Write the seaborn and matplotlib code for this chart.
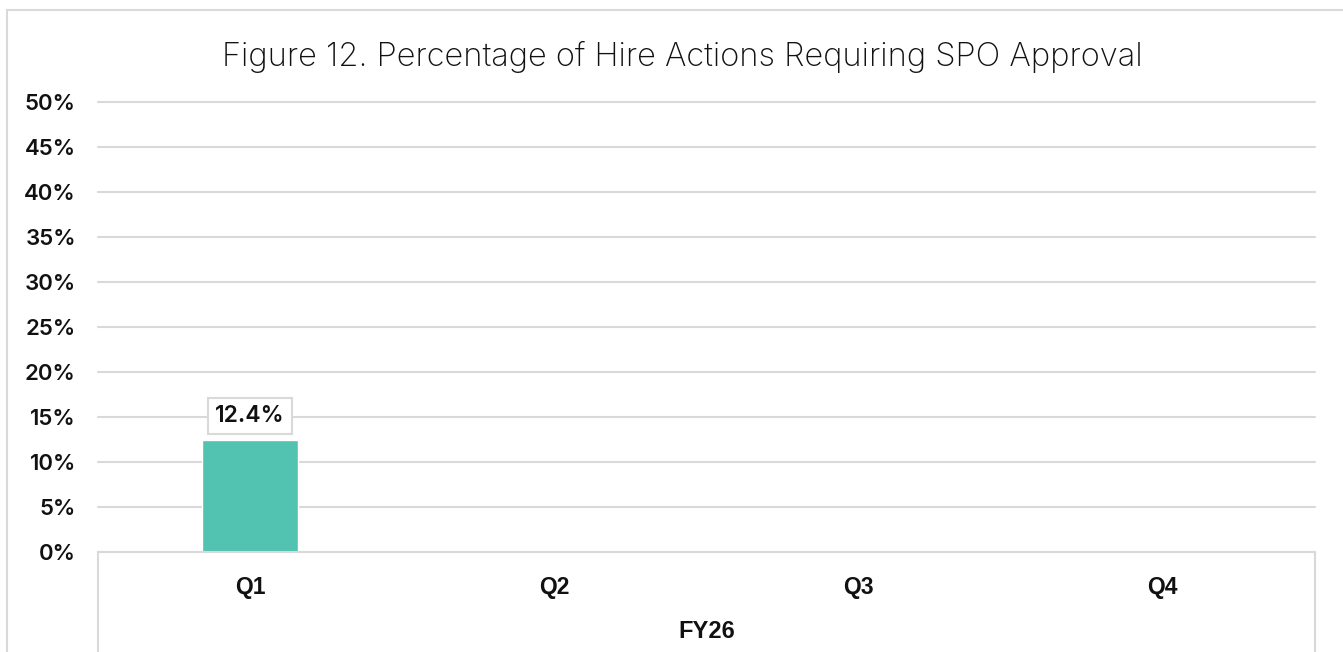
import pandas as pd
import matplotlib.pyplot as plt
import seaborn as sns
import numpy as np
from matplotlib.patches import Rectangle
from matplotlib.lines import Line2D
from matplotlib.ticker import PercentFormatter

# Chart data
quarters = ['Q1', 'Q2', 'Q3', 'Q4']
pct_spo = [12.4, np.nan, np.nan, np.nan]
group_label = 'FY26'
title = 'Figure 12. Percentage of Hire Actions Requiring SPO Approval'

df = pd.DataFrame({'quarter': quarters, 'pct': pct_spo})

grid_col = '#d9d9d9'
bar_col = '#52c3b1'

sns.set_theme(style='white')
plt.rcParams['font.family'] = ['Inter', 'DejaVu Sans']

fig = plt.figure(figsize=(13.43, 6.52), dpi=100)
ax = fig.add_axes([98 / 1343, 1 - 552 / 652, (1315 - 98) / 1343, 450 / 652])

sns.barplot(data=df, x='quarter', y='pct', order=quarters, color=bar_col,
            saturation=1, width=0.316, ax=ax, errorbar=None)

ax.set_ylim(0, 50)
ax.set_yticks(np.arange(0, 51, 5))
ax.yaxis.set_major_formatter(PercentFormatter(decimals=0))
ax.set_xlim(-0.5, 3.5)
ax.grid(axis='y', color=grid_col, linewidth=1.5)
for gl in ax.get_ygridlines():
    gl.set_clip_on(False)
ax.set_axisbelow(True)
for side in ['left', 'right', 'top']:
    ax.spines[side].set_visible(False)
ax.spines['bottom'].set_color(grid_col)
ax.spines['bottom'].set_linewidth(1.5)
ax.tick_params(axis='both', length=0)
ax.tick_params(axis='y', pad=16)
ax.tick_params(axis='x', pad=17)
for lbl in ax.get_yticklabels():
    lbl.set_fontsize(16)
    lbl.set_fontweight('semibold')
    lbl.set_color('#111111')
for lbl in ax.get_xticklabels():
    lbl.set_fontsize(16.5)
    lbl.set_fontweight('bold')
    lbl.set_family(['Liberation Sans', 'DejaVu Sans'])
    lbl.set_color('#111111')
ax.set_xlabel('')
ax.set_ylabel('')

# data labels
for i, v in enumerate(pct_spo):
    if not np.isnan(v):
        ax.text(i, v + 2.7, f'{v:.1f}%', ha='center', va='center', fontsize=16.5,
                fontweight='semibold', color='#111111',
                bbox=dict(boxstyle='square,pad=0.3', fc='white', ec=grid_col, lw=1.5))

# category group separators below the axis
for xpos in [0, 1]:
    ax.add_line(Line2D([xpos, xpos], [0, -0.23], transform=ax.transAxes,
                       color=grid_col, lw=1.5, clip_on=False))

fig.text(0.5 * (98 + 1315) / 1343, 1 - 632 / 652, group_label, ha='center', va='center',
         fontsize=17, fontweight='bold', family=['Liberation Sans', 'DejaVu Sans'], color='#111111')

fig.text(682 / 1343, 1 - 57 / 652, title, ha='center', va='center', fontsize=23.5,
         fontweight='light', color='#111111')

# outer chart frame
fig.patches.append(Rectangle((7 / 1343, -0.1), 1.2, 1 - 10 / 652 + 0.1, transform=fig.transFigure,
                             fill=False, edgecolor=grid_col, lw=1.5))

fig.savefig('out.png', dpi=100)
